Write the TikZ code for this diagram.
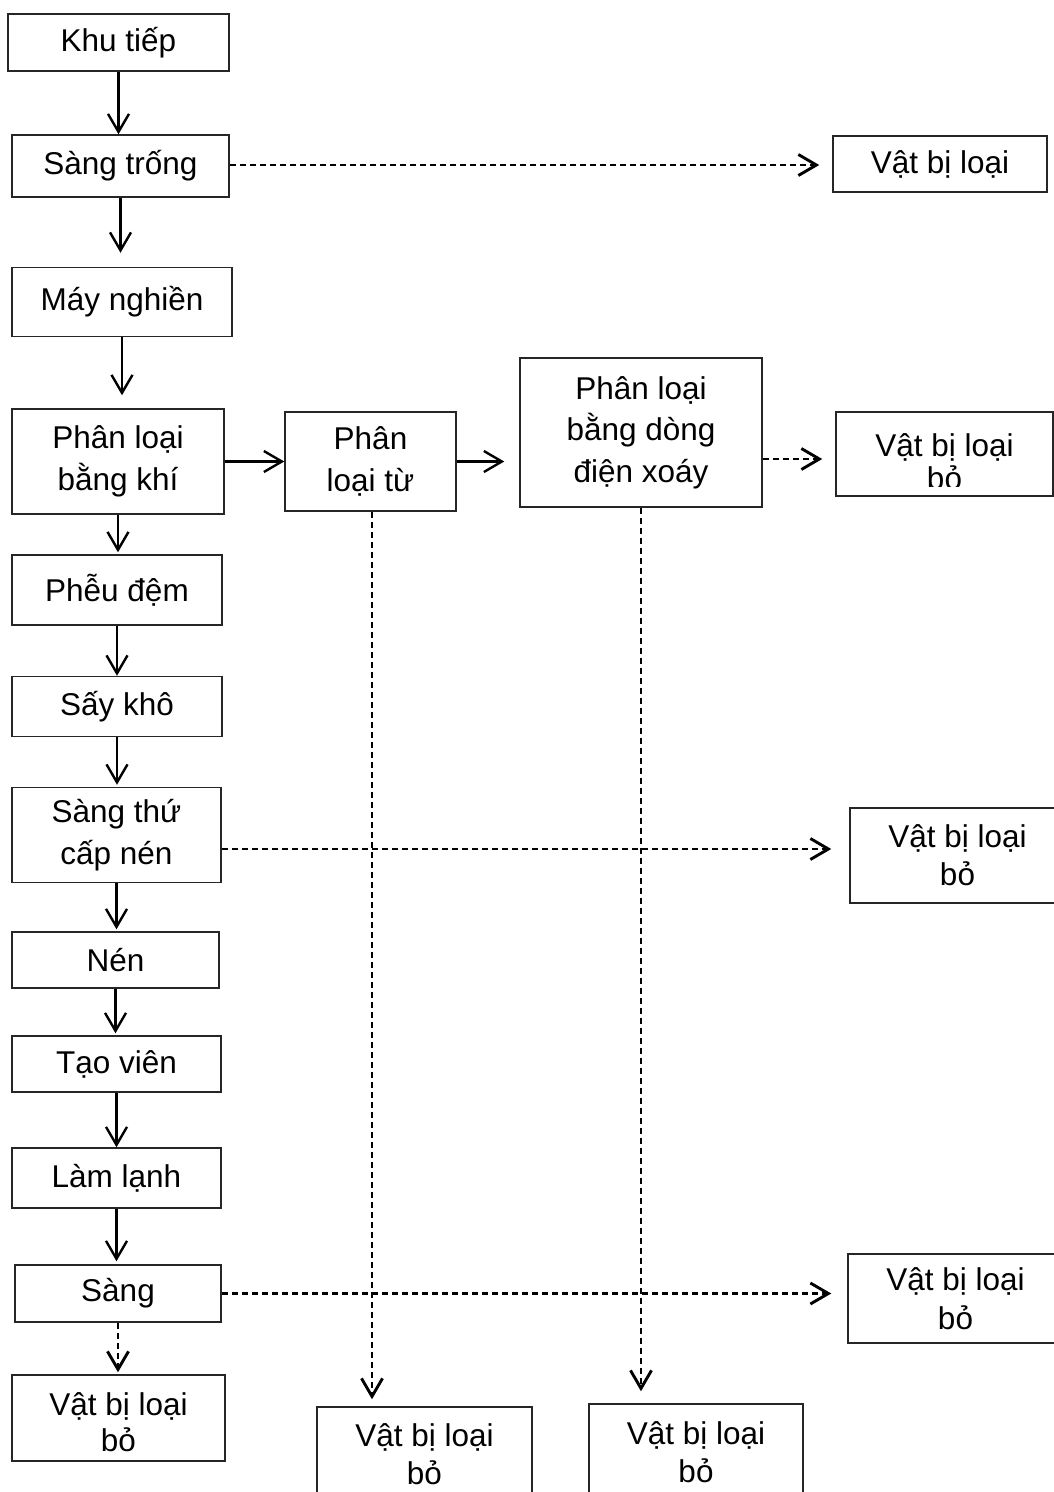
\documentclass[tikz,border=0pt]{standalone}
\usepackage{fontspec}
\setmainfont{Liberation Sans}
\usetikzlibrary{arrows.meta,calc}
\begin{document}
\begin{tikzpicture}[x=1pt,y=-1pt,
  label font/.style={font=\fontsize{31.5}{#1}\selectfont},
  label font/.default=41.5,
  box/.style={draw=black!85, line width=1.5pt, inner sep=0pt, align=center, label font},
  sz/.style 2 args={minimum width=#1pt, minimum height=#2pt},
  txt/.style={inner sep=0pt, align=center, label font},
  flow/.style={line width=2.4pt, -{Straight Barb[length=18pt,width=21pt]}},
  reject/.style={flow, line width=2.9pt, dash pattern=on 6pt off 4pt}]

% page
\fill[white] (0,0) rectangle (1054,1492);
\useasboundingbox (0,0) rectangle (1054,1492);

% main process chain
\node[box, sz={221}{57}]  (k1)  at (118.5,42.5)  {Khu tiếp};
\node[box, sz={217}{62}]  (k2)  at (120.5,166)   {Sàng trống};
\node[box, sz={220}{69}]  (k3)  at (122,302)     {Máy nghiền};
\node[box, sz={212}{105}] (k4)  at (118,461.5)   {Phân loại\\bằng khí};
\node[box, sz={171}{99}]  (k5)  at (370.5,461.5) {Phân\\loại từ};
\node[box, sz={242}{149}] (k6)  at (641,432.5)   {Phân loại\\bằng dòng\\điện xoáy};
\node[box, sz={210}{70}]  (k7)  at (117,590)     {Phễu đệm};
\node[box, sz={210}{60}]  (k8)  at (117,706.5)   {Sấy khô};
\node[box, sz={209}{95}]  (k9)  at (116.5,835)   {Sàng thứ\\cấp nén};
\node[box, sz={207}{56}]  (k10) at (115.5,960)   {Nén};
\node[box, sz={209}{56}]  (k11) at (116.5,1064)  {Tạo viên};
\node[box, sz={209}{60}]  (k12) at (116.5,1178)  {Làm lạnh};
\node[box, sz={206}{57}]  (k13) at (118,1293.5)  {Sàng};

% rejected material
\node[box, sz={214}{56}]  (r1)  at (940,164)     {Vật bị loại};
\node[box, sz={217}{84}]  (r2)  at (944.5,454)   {};
\begin{scope}
  % the second line runs past the inner margin of this box and is cut off
  \clip (r2.north west) rectangle ($(r2.south east)+(0,-10)$);
  \node[txt, label font=33] (r2t) at ($(r2.center)+(0,8)$) {Vật bị loại\\bỏ};
\end{scope}
\node[box, sz={215}{95}, label font=38] (r3) at (957.5,855.5) {Vật bị loại\\bỏ};
\node[box, sz={215}{89}, label font=39] (r4) at (955.5,1298.5){Vật bị loại\\bỏ};
\node[box, sz={213}{86}]  (b1)  at (118.5,1418)  {};
\node[txt, label font=36] (b1t) at ($(b1.center)+(0,4)$) {Vật bị loại\\bỏ};
\node[box, sz={215}{95}, label font=38] (b2) at (424.5,1454.5){Vật bị loại\\bỏ};
\node[box, sz={214}{96}, label font=38] (b3) at (696,1452)    {Vật bị loại\\bỏ};

% solid flow arrows
\draw[flow] (k1.south) -- (k1.south |- k2.north);
\draw[flow] (k2.south) -- ($(k2.south |- k3.north)+(0,-14)$);
\draw[flow] (k3.south) -- ($(k3.south |- k4.north)+(0,-13)$);
\draw[flow] (k4.south) -- ($(k4.south |- k7.north)+(0,-2)$);
\draw[flow] (k7.south) -- (k7.south |- k8.north);
\draw[flow] (k8.south) -- ($(k8.south |- k9.north)+(0,-2)$);
\draw[flow] (k9.south) -- ($(k9.south |- k10.north)+(0,-2)$);
\draw[flow] (k10.south) -- ($(k10.south |- k11.north)+(0,-2)$);
\draw[flow] (k11.south) -- (k11.south |- k12.north);
\draw[flow] (k12.south) -- ($(k12.south |- k13.north)+(0,-3)$);
\draw[flow] (k4.east) -- (k4.east -| k5.west);
\draw[flow] (k5.east) -- ($(k5.east -| k6.west)+(-15,0)$);

% dashed reject arrows
\draw[reject] ($(k2.east)+(0,-1)$) -- ($(k2.east -| r1.west)+(-13,-1)$);
\draw[reject] ($(k6.east)+(0,26.5)$) -- ($(k6.east -| r2.west)+(-13,26.5)$);
\draw[reject] ($(k5.south)+(1.5,0)$) -- ($(k5.south |- b2.north)+(1.5,-7)$);
\draw[reject] (k6.south) -- ($(k6.south |- b3.north)+(0,-12)$);
\draw[reject] ($(k9.east)+(0,14)$) -- ($(k9.east -| r3.west)+(-18,14)$);
\draw[reject] (k13.east) -- ($(k13.east -| r4.west)+(-16,0)$);
\draw[reject] (k13.south) -- ($(k13.south |- b1.north)+(0,-2)$);
\end{tikzpicture}
\end{document}
